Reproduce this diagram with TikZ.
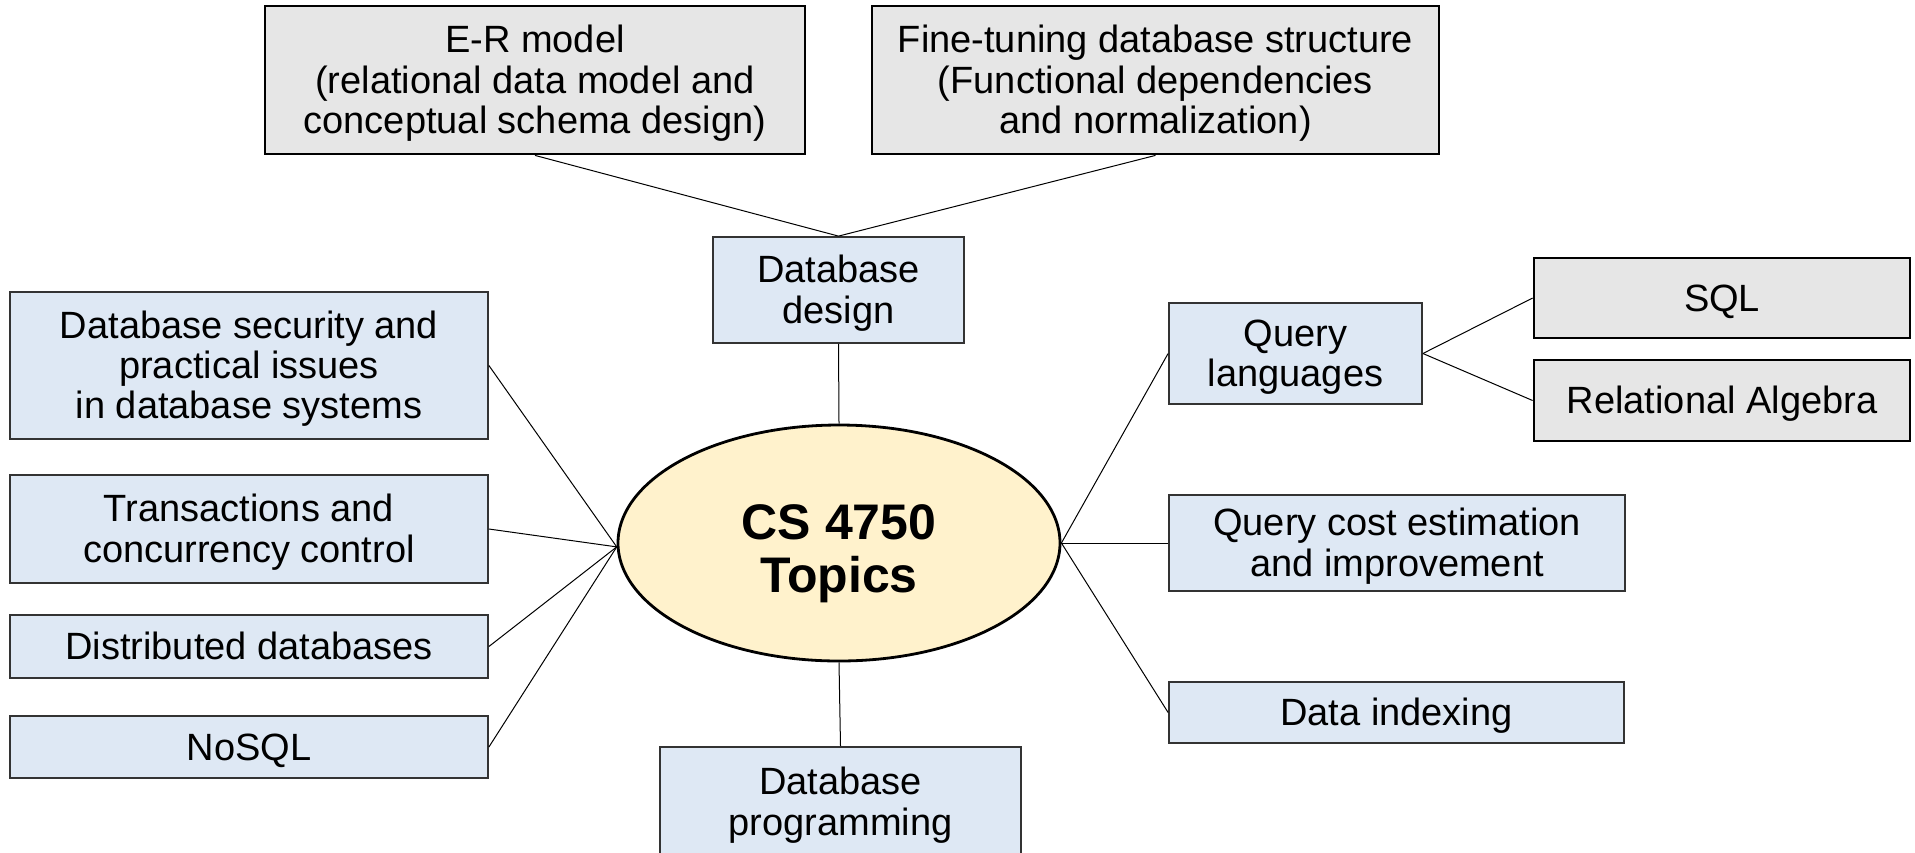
\documentclass[tikz,border=0pt]{standalone}
\usepackage{fontspec}
\setmainfont{Liberation Sans}
\usetikzlibrary{shapes.geometric}
\definecolor{bluefill}{HTML}{DEE8F4}
\definecolor{grayfill}{HTML}{E6E6E6}
\definecolor{yellowfill}{HTML}{FFF2CC}
\definecolor{blueborder}{HTML}{333333}
% text block, lowered by #1 while keeping its box size (matches the reference's text placement)
\newcommand{\tblock}[2][-2.5pt]{\raisebox{#1}[\height][\depth]{\begin{tabular}{@{}c@{}}#2\end{tabular}}}
\tikzset{
  base/.style={rectangle, inner sep=0pt, font=\fontsize{19}{20.1}\selectfont},
  bluebox/.style={base, fill=bluefill, draw=blueborder, line width=0.9pt},
  graybox/.style={base, fill=grayfill, draw=black, line width=1.4pt},
  hub/.style={ellipse, inner sep=0pt, fill=yellowfill, draw=black, line width=1.4pt,
    font=\fontsize{25}{26.6}\selectfont\bfseries},
  link/.style={draw=black, line width=0.5pt}
}
\begin{document}
\begin{tikzpicture}[x=0.5pt, y=-0.5pt]
\useasboundingbox (0,0) rectangle (1915,852);
\node[graybox, minimum width=270pt, minimum height=74pt] (er) at (535,80) {\tblock{E-R model\\(relational data model and\\conceptual schema design)}};
\node[graybox, minimum width=283.5pt, minimum height=74pt] (ft) at (1155.5,80) {\tblock{Fine-tuning database structure\\(Functional dependencies\\and normalization)}};
\node[bluebox, minimum width=125.5pt, minimum height=53pt] (dd) at (838.5,290) {\tblock{Database\\design}};
\node[bluebox, minimum width=239pt, minimum height=73.5pt] (sec) at (249,365.5) {\tblock{Database security and\\practical issues\\in database systems}};
\node[bluebox, minimum width=239pt, minimum height=54pt] (tr) at (249,529) {\tblock{Transactions and\\concurrency control}};
\node[bluebox, minimum width=239pt, minimum height=31.5pt] (dist) at (249,646.5) {\tblock{Distributed databases}};
\node[bluebox, minimum width=239pt, minimum height=31pt] (nosql) at (249,747) {\tblock{NoSQL}};
\node[hub, minimum width=221pt, minimum height=118pt] (ell) at (839,543) {\tblock[-6.3pt]{CS 4750\\Topics}};
\node[bluebox, minimum width=180.5pt, minimum height=55pt] (dp) at (840.5,802) {\tblock{Database\\programming}};
\node[bluebox, minimum width=126.5pt, minimum height=50.5pt] (ql) at (1295.5,353.5) {\tblock{Query\\languages}};
\node[graybox, minimum width=188pt, minimum height=40pt] (sql) at (1722,298) {\tblock{SQL}};
\node[graybox, minimum width=188pt, minimum height=40.5pt] (ra) at (1722,400.5) {\tblock{Relational Algebra}};
\node[bluebox, minimum width=228pt, minimum height=48pt] (qc) at (1397,543) {\tblock{Query cost estimation\\and improvement}};
\node[bluebox, minimum width=227.5pt, minimum height=30.5pt] (di) at (1396.5,712.5) {\tblock{Data indexing}};
\draw[link] (er.south) -- (dd.north);
\draw[link] (ft.south) -- (dd.north);
\draw[link] (dd.south) -- (ell.north);
\draw[link] (ell.south) -- (dp.north);
\draw[link] (sec.east) -- (ell.181.5);
\draw[link] (tr.east) -- (ell.181.5);
\draw[link] (dist.east) -- (ell.181.5);
\draw[link] (nosql.east) -- (ell.181.5);
\draw[link] (ell.east) -- (ql.west);
\draw[link] (ell.east) -- (qc.west);
\draw[link] (ell.east) -- (di.west);
\draw[link] (ql.east) -- (sql.west);
\draw[link] (ql.east) -- (ra.west);
\end{tikzpicture}
\end{document}
